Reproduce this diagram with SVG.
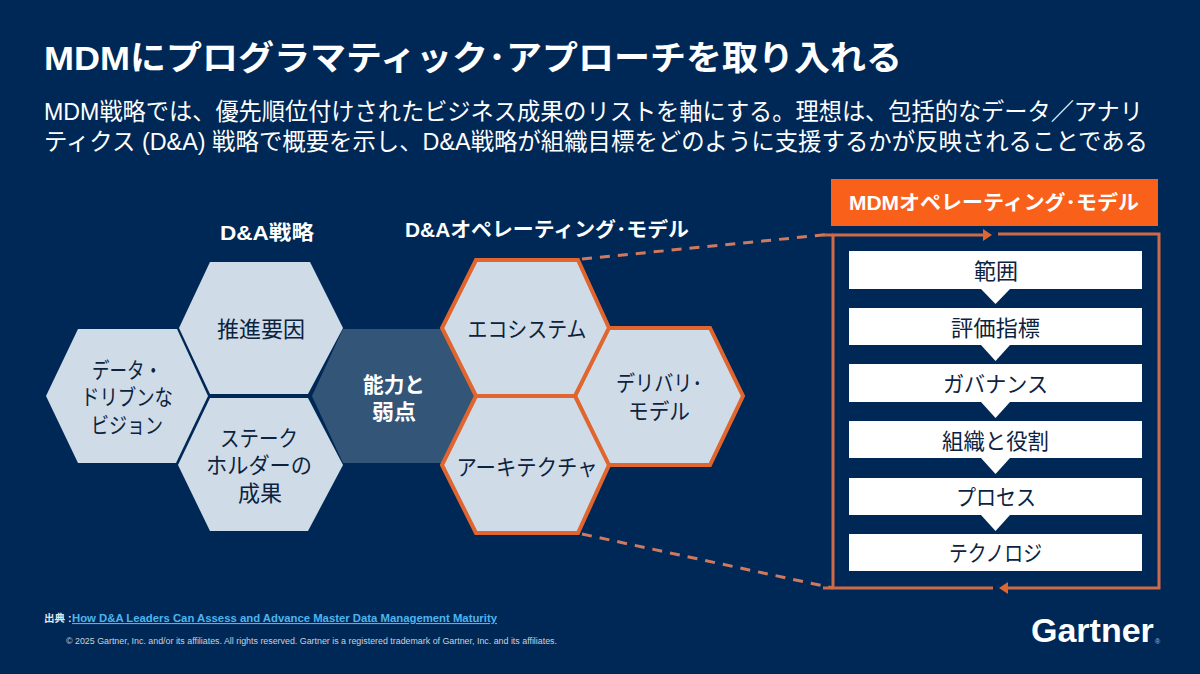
<svg xmlns="http://www.w3.org/2000/svg" width="1200" height="674" viewBox="0 0 1200 674">
<defs>
<style>
text{font-family:"Liberation Sans","Noto Sans CJK JP",sans-serif;text-anchor:middle}
.h{fill:#cfdce8}
.o{fill:#cfdce8;stroke:#e0652e;stroke-width:4;stroke-linejoin:miter}
.t{font-size:22px;fill:#0c2340}
.c{font-size:21px;font-weight:700;fill:#fff}
.w{fill:#fff}
.l{fill:none;stroke:#cf6a48;stroke-width:3}
.d{fill:none;stroke:#cf7a5e;stroke-width:3;stroke-dasharray:10 8}
.ah{fill:#e0652e}
.hd{font-size:20px;font-weight:700;fill:#fff}
.sub{font-size:23.500px;fill:#fff;text-anchor:start}
</style>
</defs>
<rect width="1200" height="674" fill="#002856"/>
<g id="title">
<text x="44" y="70" style="text-anchor:start;font-size:34px;font-weight:700;fill:#fff" textLength="858" lengthAdjust="spacingAndGlyphs">MDMにプログラマティック･アプローチを取り入れる</text>
<text x="44" y="120" class="sub" textLength="1099" lengthAdjust="spacingAndGlyphs">MDM戦略では、優先順位付けされたビジネス成果のリストを軸にする。理想は、包括的なデータ／アナリ</text>
<text x="44" y="150" class="sub" textLength="1104" lengthAdjust="spacingAndGlyphs">ティクス (D&amp;A) 戦略で概要を示し、D&amp;A戦略が組織目標をどのように支援するかが反映されることである</text>
</g>
<g id="header-da-strategy"><text x="267" y="240" class="hd" textLength="94" lengthAdjust="spacingAndGlyphs">D&amp;A戦略</text></g>
<g id="header-da-model"><text x="547" y="237" class="hd" textLength="284" lengthAdjust="spacingAndGlyphs">D&amp;Aオペレーティング･モデル</text></g>
<g id="connectors">
<path class="d" d="M582 259L833 234"/>
<path class="d" d="M582 534L833 588"/>
<path class="l" d="M823 235H985"/>
<path class="l" d="M998 234H1159V588H1006"/>
<path class="l" d="M993 588H823"/>
<path class="l" d="M833 235V588"/>
<path class="ah" d="M983 229L992 235L983 241Z"/>
<path class="ah" d="M1008 582L999 588L1008 594Z"/>
</g>
<g id="node-data-vision">
<path class="h" d="M46 396L78 329H177L208 396L176 463H78Z"/>
<text class="t" x="127" y="378" textLength="70" lengthAdjust="spacingAndGlyphs">データ・</text><text class="t" x="127" y="405" textLength="92" lengthAdjust="spacingAndGlyphs">ドリブンな</text><text class="t" x="127" y="433" textLength="72" lengthAdjust="spacingAndGlyphs">ビジョン</text>
</g>
<g id="node-drivers">
<path class="h" d="M210 262H310L343 328L308 394H210L179 328Z"/>
<text class="t" x="261" y="337" textLength="88" lengthAdjust="spacingAndGlyphs">推進要因</text>
</g>
<g id="node-stakeholder">
<path class="h" d="M210 398H308L343 465L308 531H210L178 465Z"/>
<text class="t" x="259" y="446" textLength="78" lengthAdjust="spacingAndGlyphs">ステーク</text><text class="t" x="259" y="473" textLength="106" lengthAdjust="spacingAndGlyphs">ホルダーの</text><text class="t" x="260" y="501" textLength="44" lengthAdjust="spacingAndGlyphs">成果</text>
</g>
<g id="node-capability">
<path fill="#335577" d="M312 396L343 329H442L475 396L442 463H343Z"/>
<text class="c" x="394" y="392" textLength="62" lengthAdjust="spacingAndGlyphs">能力と</text>
<text class="c" x="394" y="419" textLength="44" lengthAdjust="spacingAndGlyphs">弱点</text>
</g>
<g id="node-delivery">
<path class="o" d="M608 328H710L743 396L710 465H608L575 396Z"/>
<text class="t" x="659" y="391" textLength="86" lengthAdjust="spacingAndGlyphs">デリバリ･</text><text class="t" x="659" y="419" textLength="62" lengthAdjust="spacingAndGlyphs">モデル</text>
</g>
<g id="node-ecosystem">
<path class="o" d="M476 260H578L609 328L575 396H476L442 328Z"/>
<text class="t" x="527" y="337" textLength="119" lengthAdjust="spacingAndGlyphs">エコシステム</text>
</g>
<g id="node-architecture">
<path class="o" d="M476 396H575L609 465L578 533H476L442 465Z"/>
<text class="t" x="527" y="475" textLength="141" lengthAdjust="spacingAndGlyphs">アーキテクチャ</text>
</g>
<g id="node-mdm-header">
<rect x="831" y="179" width="327" height="47" fill="#f9601a"/>
<text x="994" y="210" class="hd" textLength="290" lengthAdjust="spacingAndGlyphs">MDMオペレーティング･モデル</text>
</g>
<g id="node-scope"><rect class="w" x="849" y="251" width="293" height="38"/><path class="w" d="M981 289H1010L995.500 304Z"/><text class="t" x="996" y="279" textLength="44" lengthAdjust="spacingAndGlyphs">範囲</text></g>
<g id="node-metrics"><rect class="w" x="849" y="308" width="293" height="37"/><path class="w" d="M981 345H1010L995.500 361Z"/><text class="t" x="995.500" y="336" textLength="89" lengthAdjust="spacingAndGlyphs">評価指標</text></g>
<g id="node-governance"><rect class="w" x="849" y="364" width="293" height="38"/><path class="w" d="M981 402H1010L995.500 418Z"/><text class="t" x="995.500" y="392" textLength="105" lengthAdjust="spacingAndGlyphs">ガバナンス</text></g>
<g id="node-organization"><rect class="w" x="849" y="421" width="293" height="37"/><path class="w" d="M981 458H1010L995.500 474Z"/><text class="t" x="995.500" y="449" textLength="107" lengthAdjust="spacingAndGlyphs">組織と役割</text></g>
<g id="node-process"><rect class="w" x="849" y="478" width="293" height="37"/><path class="w" d="M981 515H1010L995.500 531Z"/><text class="t" x="996" y="505" textLength="80" lengthAdjust="spacingAndGlyphs">プロセス</text></g>
<g id="node-technology"><rect class="w" x="849" y="534" width="293" height="37"/><text class="t" x="995.500" y="561" textLength="93" lengthAdjust="spacingAndGlyphs">テクノロジ</text></g>
<g id="footer">
<text x="44" y="622" style="text-anchor:start;font-size:10.500px;font-weight:700;fill:#dfe6ee">出典 :</text>
<text x="72" y="622" style="text-anchor:start;font-size:11px;font-weight:700;fill:#4db4ee;text-decoration:underline" textLength="425" lengthAdjust="spacingAndGlyphs">How D&amp;A Leaders Can Assess and Advance Master Data Management Maturity</text>
<text x="66" y="644" style="text-anchor:start;font-size:8.500px;fill:#c9d2dc" textLength="491" lengthAdjust="spacingAndGlyphs">© 2025 Gartner, Inc. and/or its affiliates. All rights reserved. Gartner is a registered trademark of Gartner, Inc. and its affiliates.</text>
</g>
<g id="logo">
<text x="1031" y="642" style="text-anchor:start;font-size:34px;font-weight:700;fill:#fff">Gartner</text>
<text x="1155" y="644" style="text-anchor:start;font-size:7px;fill:#9fc4e8">®</text>
</g>
</svg>
